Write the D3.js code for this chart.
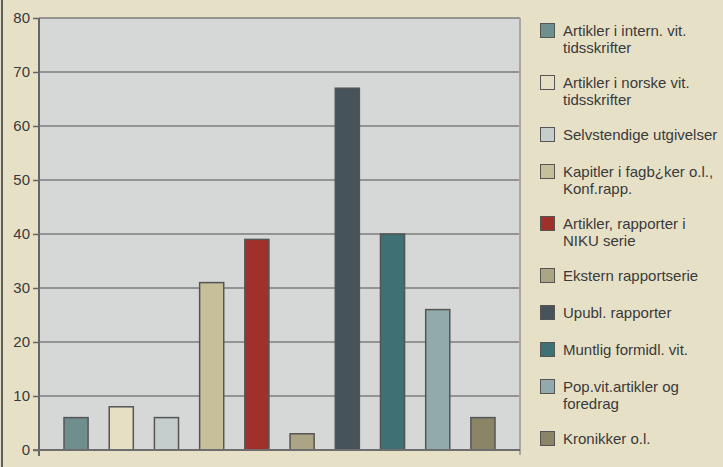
<!DOCTYPE html>
<html><head><meta charset="utf-8">
<script src="https://cdn.jsdelivr.net/npm/d3@7"></script>
<style>
html,body{margin:0;padding:0;background:#E6E0C7;}
svg{display:block;font-family:"Liberation Sans",Arial,sans-serif;}
</style></head>
<body>
<script>
const categories = [
  "Artikler i intern. vit. tidsskrifter",
  "Artikler i norske vit. tidsskrifter",
  "Selvstendige utgivelser",
  "Kapitler i fagb¿ker o.l., Konf.rapp.",
  "Artikler, rapporter i NIKU serie",
  "Ekstern rapportserie",
  "Upubl. rapporter",
  "Muntlig formidl. vit.",
  "Pop.vit.artikler og foredrag",
  "Kronikker o.l."
];
const legendLines = [
  ["Artikler i intern. vit.", "tidsskrifter"],
  ["Artikler i norske vit.", "tidsskrifter"],
  ["Selvstendige utgivelser"],
  ["Kapitler i fagb¿ker o.l.,", "Konf.rapp."],
  ["Artikler, rapporter i", "NIKU serie"],
  ["Ekstern rapportserie"],
  ["Upubl. rapporter"],
  ["Muntlig formidl. vit."],
  ["Pop.vit.artikler og", "foredrag"],
  ["Kronikker o.l."]
];
const values = [6, 8, 6, 31, 39, 3, 67, 40, 26, 6];
const colors = ["#6F8F8E","#E6DFC4","#C5CDCD","#C6BF9A","#A0302A","#ABA585","#46535B","#3F7073","#92AAAB","#8B8466"];
const yTicks = [0,10,20,30,40,50,60,70,80];

const W = 723, H = 467;
const plot = {l:39, r:520, t:18, b:450};
const svg = d3.select("body").append("svg").attr("width",W).attr("height",H);
svg.append("rect").attr("width",W).attr("height",H).attr("fill","#E6E0C7");
svg.append("line").attr("x1",2).attr("x2",2).attr("y1",0).attr("y2",H)
  .attr("stroke","#5E5E5E").attr("stroke-width",2);

const y = d3.scaleLinear().domain([0,80]).range([plot.b, plot.t]);
const x = d3.scaleBand().domain(categories).range([plot.l+25, plot.r-25])
  .paddingInner(0.467).paddingOuter(0.0);

svg.append("rect").attr("x",plot.l).attr("y",plot.t)
  .attr("width",plot.r-plot.l).attr("height",plot.b-plot.t).attr("fill","#D6D8D8");

// gridlines
svg.append("g").selectAll("line").data(yTicks.filter(d=>d>0)).join("line")
  .attr("x1",plot.l).attr("x2",plot.r)
  .attr("y1",d=>y(d)).attr("y2",d=>y(d))
  .attr("stroke","#7C7C7C").attr("stroke-width",1.6);

// right border
svg.append("line").attr("x1",plot.r).attr("x2",plot.r).attr("y1",plot.t).attr("y2",plot.b+5)
  .attr("stroke","#A9A5A0").attr("stroke-width",2);

// bars
svg.append("g").selectAll("rect").data(values).join("rect")
  .attr("x",(d,i)=>x(categories[i]))
  .attr("y",d=>y(d))
  .attr("width",x.bandwidth())
  .attr("height",d=>y(0)-y(d))
  .attr("fill",(d,i)=>colors[i])
  .attr("stroke","#555555").attr("stroke-width",1.5);

// y axis
const yAxis = d3.axisLeft(y).tickValues(yTicks).tickSize(6).tickPadding(3);
const gy = svg.append("g").attr("transform",`translate(${plot.l},0)`).call(yAxis);
gy.select(".domain").remove();
gy.selectAll(".tick line").attr("stroke","#666").attr("stroke-width",1.5);
gy.selectAll(".tick text").attr("fill","#3A3A3A").style("font-size","15px")
  .style("font-family","'Liberation Sans',Arial,sans-serif");
svg.append("line").attr("x1",plot.l).attr("x2",plot.l).attr("y1",plot.t).attr("y2",plot.b+6)
  .attr("stroke","#666").attr("stroke-width",2);
svg.append("line").attr("x1",plot.l-6).attr("x2",plot.r).attr("y1",plot.b).attr("y2",plot.b)
  .attr("stroke","#6E6E6E").attr("stroke-width",2);

// legend
const lg = svg.append("g");
let ly = 23;
legendLines.forEach((lines,i)=>{
  const g = lg.append("g").attr("transform",`translate(540,${ly})`);
  g.append("rect").attr("x",0.5).attr("y",0.5).attr("width",14).attr("height",14)
    .attr("fill",colors[i]).attr("stroke","#555").attr("stroke-width",1);
  lines.forEach((t,j)=>{
    g.append("text").attr("x",23).attr("y",13+j*16.7).text(t)
      .attr("fill","#3A3A3A").style("font-size","15px");
  });
  ly += 37 + 15*(lines.length-1);
});
</script>
</body></html>
